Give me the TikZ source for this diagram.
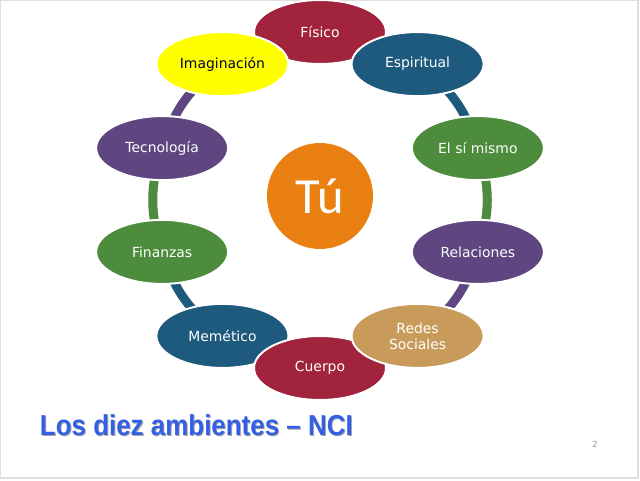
\documentclass[tikz,border=0pt]{standalone}
\usepackage{fontspec}
\setmainfont{DejaVu Sans}
\newfontfamily\titlefont{Liberation Sans}
\newfontfamily\tufont{Carlito}
\usetikzlibrary{shapes.geometric,backgrounds}
\definecolor{ncired}{RGB}{162,35,60}
\definecolor{nciblue}{RGB}{30,90,125}
\definecolor{ncigreen}{RGB}{76,140,60}
\definecolor{ncipurple}{RGB}{95,70,128}
\definecolor{ncitan}{RGB}{200,155,90}
\definecolor{nciyellow}{RGB}{255,255,0}
\definecolor{nciorange}{RGB}{234,128,18}
\definecolor{ncititle}{RGB}{50,95,230}
\tikzset{
    ambiente/.style={
        ellipse,
        draw=white,
        line width=1.4pt,
        minimum width=3.3cm,
        minimum height=1.6cm,
        inner sep=0pt,
        text=white,
        align=center,
        font=\fontsize{9.9}{11.5}\selectfont
    },
    enlace/.style={
        line width=6.4pt
    }
}

\begin{document}
\begin{tikzpicture}
\useasboundingbox (0,0) rectangle (16,12);
\draw[gray!25, line width=0.8pt] (0.02,0.05) rectangle (15.95,11.98);
\begin{scope}[shift={(8,7)}]
\node[ambiente, fill=ncired] (fisico) at (90:4.15 and 4.2) {Físico};
\node[ambiente, fill=nciblue] (memetico) at (-126:4.15 and 4.2) {Memético};
\node[ambiente, fill=ncired] (cuerpo) at (-90:4.15 and 4.2) {Cuerpo};
\node[ambiente, fill=ncitan] (redes) at (-54:4.15 and 4.2) {Redes\\Sociales};
\node[ambiente, fill=nciblue] (espiritual) at (54:4.15 and 4.2) {Espiritual};
\node[ambiente, fill=ncigreen] (simismo) at (18:4.15 and 4.2) {El sí mismo};
\node[ambiente, fill=ncipurple] (relaciones) at (-18:4.15 and 4.2) {Relaciones};
\node[ambiente, fill=ncigreen] (finanzas) at (-162:4.15 and 4.2) {Finanzas};
\node[ambiente, fill=ncipurple] (tecnologia) at (162:4.15 and 4.2) {Tecnología};
\node[ambiente, fill=nciyellow, text=black!80!blue] (imaginacion) at (126:4.15 and 4.2) {Imaginación};
\node[circle, fill=nciorange, minimum size=2.65cm, inner sep=0pt, text=white,
      font=\tufont\fontsize{36}{36}\selectfont] (tu) at (0,0.1) {Tú};
\end{scope}
% enlaces detras de las elipses
\begin{scope}[on background layer]
\draw[enlace, nciblue] (espiritual.center) to[bend left=18] (simismo.center);
\draw[enlace, ncigreen] (simismo.center) to[bend left=18] (relaciones.center);
\draw[enlace, ncipurple] (relaciones.center) to[bend left=18] (redes.center);
\draw[enlace, ncipurple] (imaginacion.center) to[bend right=18] (tecnologia.center);
\draw[enlace, ncigreen] (tecnologia.center) to[bend right=18] (finanzas.center);
\draw[enlace, nciblue] (finanzas.center) to[bend right=18] (memetico.center);
\end{scope}
\node[anchor=base west, text=black!35, font=\titlefont\bfseries\fontsize{20.5}{22}\selectfont]
    (sombra) at (0.9,1.08) {\scalebox{0.9}[1]{Los diez ambientes – NCI}};
\node[anchor=base west, text=ncititle, font=\titlefont\bfseries\fontsize{20.5}{22}\selectfont]
    (titulo) at (0.875,1.11) {\scalebox{0.9}[1]{Los diez ambientes – NCI}};
\node[text=black!40, font=\fontsize{6}{7}\selectfont] (pagina) at (14.875,0.9) {2};
\end{tikzpicture}
\end{document}
